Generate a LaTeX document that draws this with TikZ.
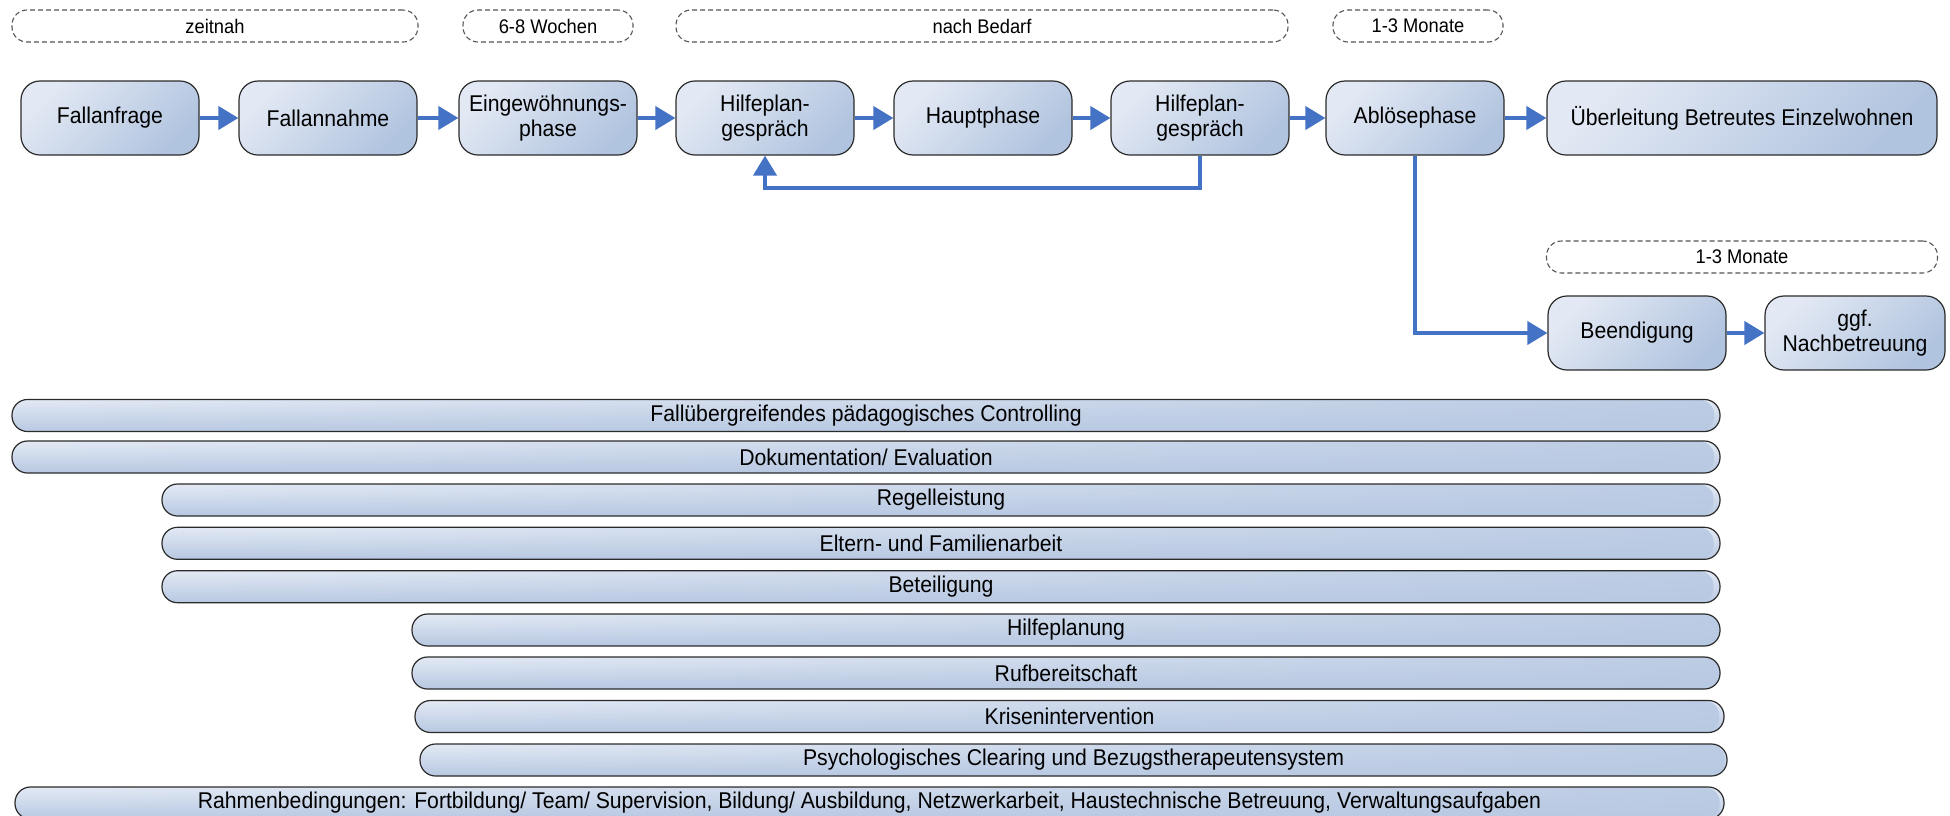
\documentclass[tikz,border=0pt]{standalone}
\usepackage{fontspec}
\setmainfont{Liberation Sans}
\newfontfamily\dgmfam[FakeStretch=0.93]{Liberation Sans}
\usetikzlibrary{arrows.meta,fadings}
\definecolor{boxlight}{HTML}{E3E9F4}
\definecolor{boxdark}{HTML}{B1C4DF}
\definecolor{bardark}{HTML}{B8C9E2}
\definecolor{barlight}{HTML}{E4EAF5}
\definecolor{bordercol}{HTML}{2B2B2B}
\definecolor{dashcol}{HTML}{555555}
\definecolor{arrowblue}{HTML}{4472C4}
\tikzfading[name=barfade, left color=transparent!100, right color=transparent!10]
\newcommand\dgmfontA{\dgmfam\fontsize{22.8pt}{25pt}\selectfont}
\newcommand\dgmfontB{\dgmfam\fontsize{19.7pt}{22pt}\selectfont}
\tikzset{
  procbox/.style={draw=bordercol, line width=1.2pt, rounded corners=19pt,
    top color=boxlight, bottom color=boxdark, shading angle=45,
    minimum width=178pt, minimum height=74pt, inner sep=0pt,
    align=center, font=\dgmfontA},
  timebox/.style={draw=dashcol, line width=1.1pt, dash pattern=on 5pt off 3pt,
    rounded corners=15pt, minimum height=32pt, inner sep=0pt, font=\dgmfontB},
  barbox/.style={draw=bordercol, line width=1.2pt, rounded corners=15.5pt,
    top color=barlight, bottom color=bardark,
    minimum height=32pt, inner sep=0pt, font=\dgmfontA,
    path picture={\fill[bardark, path fading=barfade]
      (path picture bounding box.south west) rectangle (path picture bounding box.north east);}},
  conn/.style={draw=arrowblue, line width=4pt, -{Triangle[length=20pt,width=23pt]}},
}
\begin{document}
\begin{tikzpicture}[x=1pt,y=-1pt]
\useasboundingbox (0,0) rectangle (1950,815);
% time labels
\node[timebox, minimum width=406pt] (t1) at (215,26) {zeitnah};
\node[timebox, minimum width=170pt] (t2) at (548,26) {6-8 Wochen};
\node[timebox, minimum width=612pt] (t3) at (982,26) {nach Bedarf};
\node[timebox, minimum width=170pt] (t4) at (1418,26) {1-3 Monate};
\node[timebox, minimum width=391pt] (t5) at (1742,257) {1-3 Monate};
% process boxes
\node[procbox] (fa) at (110,118) {Fallanfrage};
\node[procbox] (fn) at (328,118) {Fallannahme};
\node[procbox] (ein) at (548,118) {Eingewöhnungs-\\phase};
\node[procbox] (hp1) at (765,118) {Hilfeplan-\\gespräch};
\node[procbox] (haupt) at (983,118) {Hauptphase};
\node[procbox] (hp2) at (1200,118) {Hilfeplan-\\gespräch};
\node[procbox] (abl) at (1415,118) {Ablösephase};
\node[procbox, minimum width=390pt] (ueb) at (1742,118) {Überleitung Betreutes Einzelwohnen};
\node[procbox] (beend) at (1637,333) {Beendigung};
\node[procbox, minimum width=180pt] (nach) at (1855,333) {ggf.\\Nachbetreuung};
% connectors
\draw[conn] (fa) -- (fn);
\draw[conn] (fn) -- (ein);
\draw[conn] (ein) -- (hp1);
\draw[conn] (hp1) -- (haupt);
\draw[conn] (haupt) -- (hp2);
\draw[conn] (hp2) -- (abl);
\draw[conn] (abl) -- (ueb);
\draw[conn] (beend) -- (nach);
\draw[conn] (hp2.south) -- ++(0,32) -| (hp1.south);
\draw[conn] (abl.south) |- (beend.west);
% bars
\node[barbox, minimum width=1708pt] (b1) at (866,415.5) {Fallübergreifendes pädagogisches Controlling};
\node[barbox, minimum width=1708pt] (b2) at (866,457) {Dokumentation/ Evaluation};
\node[barbox, minimum width=1558pt] (b3) at (941,500) {Regelleistung};
\node[barbox, minimum width=1558pt] (b4) at (941,543.3) {Eltern- und Familienarbeit};
\node[barbox, minimum width=1558pt] (b5) at (941,586.7) {Beteiligung};
\node[barbox, minimum width=1308pt] (b6) at (1066,630) {Hilfeplanung};
\node[barbox, minimum width=1308pt] (b7) at (1066,673) {Rufbereitschaft};
\node[barbox, minimum width=1309pt] (b8) at (1069.5,716.5) {Krisenintervention};
\node[barbox, minimum width=1307pt] (b9) at (1073.5,760) {Psychologisches Clearing und Bezugstherapeutensystem};
\node[barbox, minimum width=1709pt] (b10) at (869.5,803) {Rahmenbedingungen: Fortbildung/ Team/ Supervision, Bildung/ Ausbildung, Netzwerkarbeit, Haustechnische Betreuung, Verwaltungsaufgaben};
\end{tikzpicture}
\end{document}
